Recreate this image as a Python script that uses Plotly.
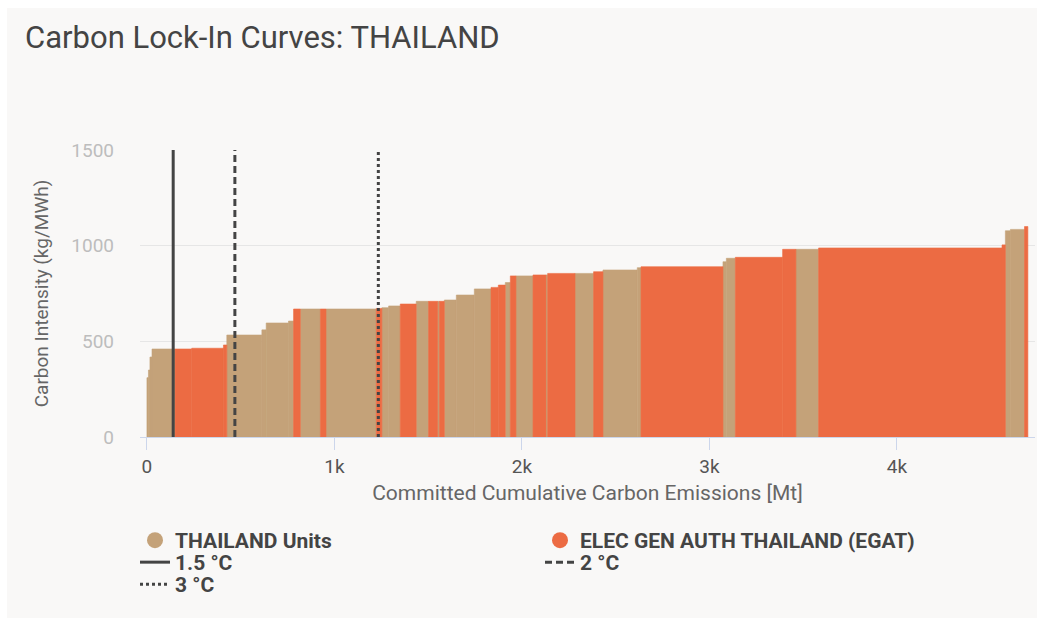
import plotly.graph_objects as go

# Generating units in merit order: owner group, committed emissions (Mt), carbon intensity (kg/MWh)
unit_group = [
    "T", "T", "T", "T", "E", "E", "E", "T", "T", "T",
    "T", "E", "T", "E", "T", "E", "T", "T", "E", "T",
    "E", "T", "E", "T", "T", "T", "E", "E", "T", "E",
    "T", "E", "T", "E", "T", "E", "T", "T", "E", "T",
    "T", "E", "E", "T", "E", "E", "T", "T", "E",
]
unit_emissions_mt = [
    8, 8, 11, 123, 89, 169, 18, 187, 23, 119,
    27, 36, 107, 30, 268, 30, 36, 62, 85, 66,
    48, 9, 27, 64, 96, 89, 39, 37, 27, 30,
    91, 69, 9, 146, 99, 50, 183, 20, 437, 18,
    48, 252, 71, 121, 978, 18, 27, 75, 18,
]
unit_intensity = [
    310, 350, 418, 460, 460, 464, 481, 533, 560, 596,
    606, 669, 669, 669, 669, 672, 676, 685, 695, 709,
    709, 709, 709, 716, 742, 774, 782, 794, 807, 842,
    842, 847, 847, 855, 855, 864, 873, 885, 890, 916,
    934, 939, 981, 981, 988, 1004, 1078, 1085, 1100,
]

group_names = {"T": "THAILAND Units", "E": "ELEC GEN AUTH THAILAND (EGAT)"}
group_colors = {"T": "#c4a279", "E": "#ec6b43"}

# Carbon budget thresholds (cumulative Mt)
budget_names = ["1.5 °C", "2 °C", "3 °C"]
budget_values = [140, 469, 1234]
budget_dashes = ["solid", "7px,4px", "3px,3px"]
budget_legends = ["legend2", "legend2", "legend3"]

x_tick_values = [0, 1000, 2000, 3000, 4000]
x_tick_labels = ["0", "1k", "2k", "3k", "4k"]
y_tick_values = [0, 500, 1000, 1500]

# cumulative start of each unit along the x axis
starts = []
acc = 0
for w in unit_emissions_mt:
    starts.append(acc)
    acc += w

fig = go.Figure()

for g in ["T", "E"]:
    idx = [i for i, gg in enumerate(unit_group) if gg == g]
    fig.add_trace(go.Bar(
        x=[starts[i] + unit_emissions_mt[i] / 2 for i in idx],
        y=[unit_intensity[i] for i in idx],
        width=[unit_emissions_mt[i] for i in idx],
        # thin outline in the fill colour closes hairline seams between neighbours
        marker=dict(color=group_colors[g], line=dict(width=0.6, color=group_colors[g])),
        name=group_names[g],
        showlegend=False,
    ))

# legend entries with round symbols
for g in ["T", "E"]:
    fig.add_trace(go.Scatter(
        x=[None], y=[None], mode="markers",
        marker=dict(color=group_colors[g], size=16, symbol="circle"),
        name=group_names[g],
        legend="legend",
    ))

for name, val, dash, lg in zip(budget_names, budget_values, budget_dashes, budget_legends):
    fig.add_trace(go.Scatter(
        x=[val, val], y=[0, 1500], mode="lines",
        line=dict(color="#444444", width=3, dash=dash),
        name=name,
        legend=lg,
    ))

card = "#f9f8f7"
W, H = 1037, 624
ml, mr, mt, mb = 140, 2, 150, 187
pw, ph = W - ml - mr, H - mt - mb

def px_to_paper_x(px):
    return (px - ml) / pw

def py_to_paper_y(py):
    return (H - mb - py) / ph

legend_font = dict(size=21, color="#444444", family="Roboto", weight="bold")

def legend_at(top_px):
    return dict(
        orientation="h",
        x=px_to_paper_x(135), xanchor="left",
        y=py_to_paper_y(top_px), yanchor="top",
        entrywidth=360, entrywidthmode="pixels",
        font=legend_font,
        bgcolor="rgba(0,0,0,0)",
        traceorder="normal",
    )

fig.update_layout(
    width=W, height=H,
    margin=dict(l=ml, r=mr, t=mt, b=mb),
    paper_bgcolor="white",
    plot_bgcolor=card,
    font=dict(family="Roboto", color="#666666"),
    barmode="overlay",
    title=dict(
        text="Carbon Lock-In Curves: THAILAND",
        x=25 / W, xanchor="left", xref="container",
        y=1 - 37 / H, yanchor="middle", yref="container",
        font=dict(size=31, color="#444444", family="Roboto"),
    ),
    xaxis=dict(
        range=[-37, 4736],
        tickvals=x_tick_values, ticktext=x_tick_labels,
        ticks="outside", ticklen=12, tickcolor="#ccd6eb", tickwidth=1,
        showline=True, linecolor="#ccd6eb", linewidth=1,
        showgrid=False, zeroline=False,
        tickfont=dict(size=19, color="#555555"),
        title=dict(text="Committed Cumulative Carbon Emissions [Mt]",
                   font=dict(size=21, color="#666666"), standoff=8),
    ),
    yaxis=dict(
        range=[0, 1500],
        tickvals=y_tick_values,
        showgrid=True, gridcolor="#e6e6e6", gridwidth=1,
        zeroline=False, showline=False, ticks="",
        ticklabelstandoff=25,
        tickfont=dict(size=19, color="#bdbdbd"),
        title=dict(text="Carbon Intensity (kg/MWh)",
                   font=dict(size=19, color="#666666"), standoff=17),
    ),
    legend=legend_at(520),
    legend2=legend_at(542),
    legend3=legend_at(564),
    shapes=[dict(
        type="rect", xref="paper", yref="paper", layer="below",
        x0=px_to_paper_x(7), x1=px_to_paper_x(1040),
        y0=py_to_paper_y(618), y1=py_to_paper_y(8),
        fillcolor=card, line=dict(width=0),
    )],
)

fig.write_html("out.html")
